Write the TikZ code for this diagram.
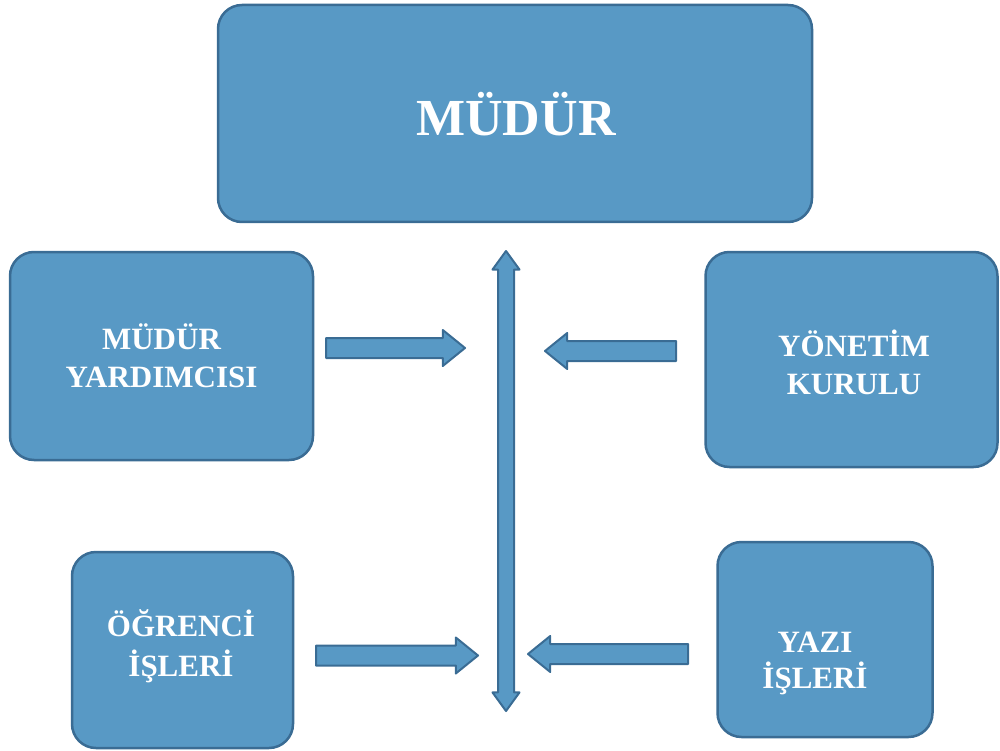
\documentclass[tikz,border=0pt]{standalone}
\usepackage{fontspec}
\setmainfont{Liberation Serif}
\usepackage{xcolor}
\usepackage{tikz}
\usetikzlibrary{shapes.arrows}

\definecolor{boxfill}{RGB}{88,153,197}
\definecolor{boxline}{RGB}{58,108,148}

\tikzset{
  box/.style={draw=boxline, fill=boxfill, line width=2.5pt, rounded corners=24pt, inner sep=0pt},
  lbl/.style={text=white, font=\bfseries\fontsize{31}{38}\selectfont, align=center, inner sep=0pt},
  barrow/.style={single arrow, draw=boxline, fill=boxfill, line width=2pt, line join=round,
    inner xsep=0pt, inner ysep=9pt, single arrow head extend=8pt, single arrow tip angle=78},
  varrow/.style={double arrow, draw=boxline, fill=boxfill, line width=2pt, line join=round,
    inner xsep=0pt, inner ysep=7pt, double arrow head extend=5.5pt, double arrow tip angle=72}
}

\begin{document}
\begin{tikzpicture}[x=1pt,y=1pt,yscale=-1,xscale=1]
\useasboundingbox (0,0) rectangle (1000,751);

%Shape: Rounded Rect [id:mudur]
\node[box, minimum width=594pt, minimum height=217pt] (mudur) at (515,113.5) {};
%Shape: Rounded Rect [id:yardimci]
\node[box, minimum width=303pt, minimum height=208pt] (yardimci) at (161.5,356) {};
%Shape: Rounded Rect [id:yonetim]
\node[box, minimum width=292pt, minimum height=215pt] (yonetim) at (851.5,359.5) {};
%Shape: Rounded Rect [id:ogrenci]
\node[box, minimum width=221pt, minimum height=196pt] (ogrenci) at (182.5,650) {};
%Shape: Rounded Rect [id:yazi]
\node[box, minimum width=215pt, minimum height=195pt] (yazi) at (825,639.5) {};

% Text Node
\node[lbl, font=\bfseries\fontsize{52}{60}\selectfont] (mudurtxt) at (516,114) {MÜDÜR};
% Text Node
\node[lbl] (yardimcitxt) at (161.5,355.5) {MÜDÜR\\YARDIMCISI};
% Text Node
\node[lbl] (yonetimtxt) at (854,362) {YÖNETİM\\KURULU};
% Text Node
\node[lbl, font=\bfseries\fontsize{31}{40}\selectfont] (ogrencitxt) at (181,646) {ÖĞRENCİ\\İŞLERİ};
% Text Node
\node[lbl, font=\bfseries\fontsize{31}{36}\selectfont] (yazitxt) at (815,663) {YAZI\\İŞLERİ};

%Shape: Double Arrow [id:dikey]
\node[varrow, minimum height=460pt, rotate=90] (dikey) at (506,481) {};
%Shape: Right Arrow [id:ok1]
\node[barrow, minimum height=139pt, anchor=tail] (ok1) at (325,348) {};
%Shape: Left Arrow [id:ok2]
\node[barrow, minimum height=131pt, rotate=180, anchor=tail] (ok2) at (677,351) {};
%Shape: Right Arrow [id:ok3]
\node[barrow, minimum height=162pt, anchor=tail] (ok3) at (315,655.5) {};
%Shape: Left Arrow [id:ok4]
\node[barrow, minimum height=160pt, rotate=180, anchor=tail] (ok4) at (689,654) {};
\end{tikzpicture}
\end{document}
